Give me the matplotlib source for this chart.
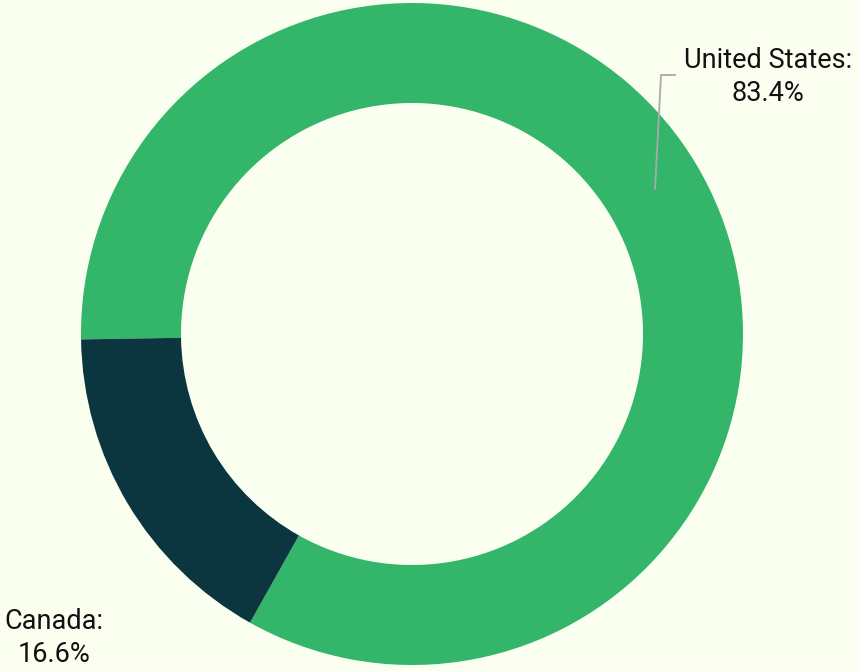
import numpy as np
import matplotlib
matplotlib.use("Agg")
import matplotlib.pyplot as plt

countries = ["United States", "Canada"]
shares = [83.4, 16.6]
colors = ["#33b56a", "#0b3640"]

W, H = 859, 671
bg = "#fbfff0"

fig = plt.figure(figsize=(W / 100, H / 100), dpi=100, facecolor=bg)
ax = fig.add_axes([0, 0, 1, 1])
ax.set_facecolor(bg)

cx, cy = 412, H - 334
R = 331
ring = 100

wedges, _ = ax.pie(shares, colors=colors, startangle=240.7, counterclock=True,
                   radius=R, center=(cx, cy), frame=True,
                   wedgeprops=dict(width=ring, linewidth=0))
ax.set_xlim(0, W)
ax.set_ylim(0, H)
ax.axis("off")

font = "Roboto"
fs = 19.5

# United States label with leader line from the ring's middle
w = wedges[0]
mid = np.deg2rad((w.theta1 + w.theta2) / 2)
rm = R - ring / 2 + 2
p0 = (cx + rm * np.cos(mid), cy + rm * np.sin(mid))
ax.plot([p0[0], 661, 675], [p0[1], H - 75, H - 75], color="#aaaaaa", lw=1.3,
        solid_joinstyle="miter")
ax.text(768, H - 77, f"{countries[0]}:\n{shares[0]:.1f}%", ha="center", va="center",
        fontsize=fs, family=font, color="#111111", linespacing=1.25)

# Canada label
ax.text(54, H - 638, f"{countries[1]}:\n{shares[1]:.1f}%", ha="center", va="center",
        fontsize=fs, family=font, color="#111111", linespacing=1.25)

fig.savefig("out.png", dpi=100, facecolor=bg)
